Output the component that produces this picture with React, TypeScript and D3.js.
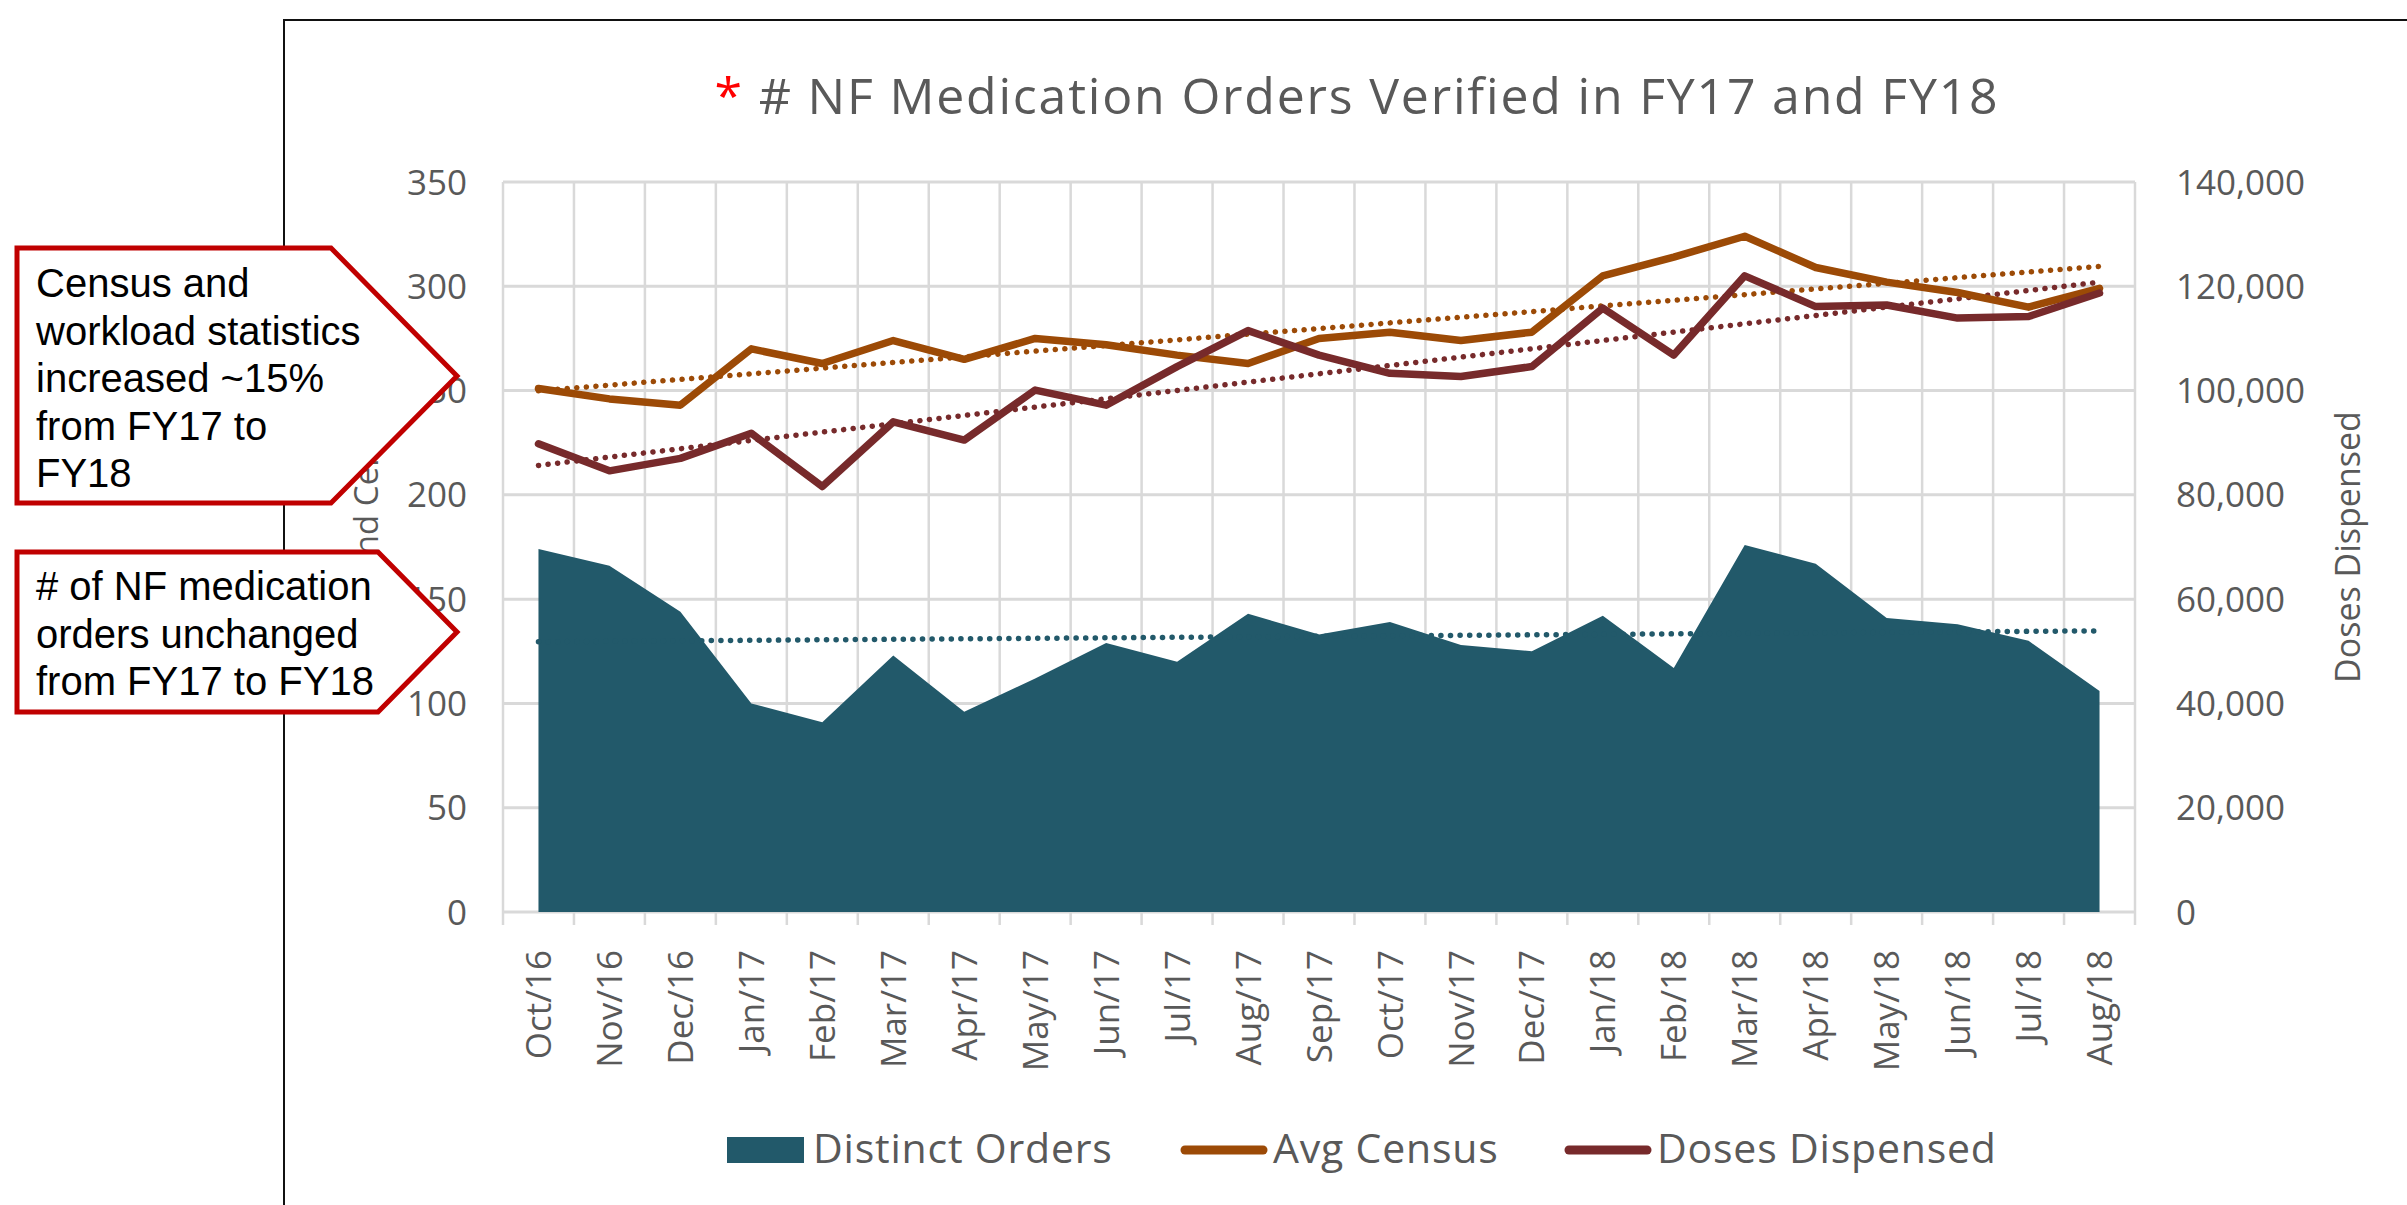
import * as d3 from 'd3'

const months = [
  'Oct/16', 'Nov/16', 'Dec/16', 'Jan/17', 'Feb/17', 'Mar/17', 'Apr/17', 'May/17',
  'Jun/17', 'Jul/17', 'Aug/17', 'Sep/17', 'Oct/17', 'Nov/17', 'Dec/17', 'Jan/18',
  'Feb/18', 'Mar/18', 'Apr/18', 'May/18', 'Jun/18', 'Jul/18', 'Aug/18'
]
const distinctOrders = [174, 166, 144, 100, 91, 123, 96, 112, 129, 120, 143, 133, 139, 128, 125, 142, 117, 176, 167, 141, 138, 130, 106]
const avgCensus = [251, 246, 243, 270, 263, 274, 265, 275, 272, 267, 263, 275, 278, 274, 278, 305, 314, 324, 309, 302, 297, 290, 299]
const dosesDispensed = [
  89800, 84600, 87000, 91800, 81600, 94000, 90500, 100100, 97200, 104600, 111500, 106800,
  103300, 102700, 104600, 115800, 106800, 122000, 116100, 116400, 113900, 114200, 118700
]
const leftTicks = [0, 50, 100, 150, 200, 250, 300, 350]
const rightTicks = [0, 20000, 40000, 60000, 80000, 100000, 120000, 140000]

const TEAL = '#22596A'
const ORANGE = '#9C4A06'
const BROWN = '#772A2B'
const GRAY = '#595959'
const GRID = '#D9D9D9'
const FONT = '"Open Sans", sans-serif'

const plot = { left: 503, right: 2135, top: 182, bottom: 912 }

// least squares line over index
function trend(vals: number[]) {
  const n = vals.length
  const xm = d3.mean(vals, (_, i) => i) as number
  const ym = d3.mean(vals) as number
  let num = 0
  let den = 0
  vals.forEach((v, i) => {
    num += (i - xm) * (v - ym)
    den += (i - xm) * (i - xm)
  })
  const b = num / den
  const a = ym - b * xm
  return [a, a + b * (n - 1)]
}

const App = () => {
  const x = d3.scaleBand<string>().domain(months).range([plot.left, plot.right]).padding(0)
  const cx = (m: string) => (x(m) as number) + x.bandwidth() / 2
  const yL = d3.scaleLinear().domain([0, 350]).range([plot.bottom, plot.top])
  const yR = d3.scaleLinear().domain([0, 140000]).range([plot.bottom, plot.top])

  const area = d3.area<number>()
    .x((_, i) => cx(months[i]))
    .y0(yL(0))
    .y1(d => yL(d))
  const lineL = d3.line<number>().x((_, i) => cx(months[i])).y(d => yL(d))
  const lineR = d3.line<number>().x((_, i) => cx(months[i])).y(d => yR(d))

  const first = cx(months[0])
  const last = cx(months[months.length - 1])
  const tOrders = trend(distinctOrders)
  const tCensus = trend(avgCensus)
  const tDoses = trend(dosesDispensed)

  const bounds = months.map(m => x(m) as number).concat([plot.right])
  const dotted = { strokeDasharray: '0.1 9.5', strokeLinecap: 'round' as const, strokeWidth: 5.5, fill: 'none' }

  return (
    <svg width={2407} height={1205} style={{ position: 'absolute', left: 0, top: 0, background: '#fff' }}>
      <rect x={284} y={20} width={2300} height={1300} fill="#fff" stroke="#111" strokeWidth={2} />

      <text x={1357} y={114} textAnchor="middle" fontFamily={FONT} fontSize={50} letterSpacing={1.8} fill={GRAY}>
        <tspan fill="#FF0000">*</tspan> # NF Medication Orders Verified in FY17 and FY18
      </text>

      {/* grid */}
      {leftTicks.map(t => (
        <line key={t} x1={plot.left} x2={plot.right} y1={yL(t)} y2={yL(t)} stroke={GRID} strokeWidth={3} />
      ))}
      {bounds.map((b, i) => (
        <line key={i} x1={b} x2={b} y1={plot.top} y2={plot.bottom + 13} stroke={GRID} strokeWidth={2.5} />
      ))}

      <path d={area(distinctOrders) as string} fill={TEAL} />

      <line x1={first} x2={last} y1={yL(tOrders[0])} y2={yL(tOrders[1])} stroke={TEAL} {...dotted} />
      <line x1={first} x2={last} y1={yL(tCensus[0])} y2={yL(tCensus[1])} stroke={ORANGE} {...dotted} />
      <line x1={first} x2={last} y1={yR(tDoses[0])} y2={yR(tDoses[1])} stroke={BROWN} {...dotted} />

      <path d={lineL(avgCensus) as string} fill="none" stroke={ORANGE} strokeWidth={7.5} strokeLinejoin="round" strokeLinecap="round" />
      <path d={lineR(dosesDispensed) as string} fill="none" stroke={BROWN} strokeWidth={7.5} strokeLinejoin="round" strokeLinecap="round" />

      {/* left axis */}
      {leftTicks.map(t => (
        <text key={t} x={467} y={yL(t)} dy="0.36em" textAnchor="end" fontFamily={FONT} fontSize={35} fill={GRAY}>{t}</text>
      ))}
      <text transform="translate(378,542) rotate(-90)" textAnchor="middle" fontFamily={FONT} fontSize={33} fill={GRAY}>
        Orders and Census
      </text>

      {/* right axis */}
      {rightTicks.map(t => (
        <text key={t} x={2176} y={yR(t)} dy="0.36em" fontFamily={FONT} fontSize={35} fill={GRAY}>{d3.format(',')(t)}</text>
      ))}
      <text transform="translate(2360,547) rotate(-90)" textAnchor="middle" fontFamily={FONT} fontSize={34} fill={GRAY}>
        Doses Dispensed
      </text>

      {/* x axis labels */}
      {months.map(m => (
        <text key={m} transform={`translate(${cx(m)},950) rotate(-90)`} dy="0.36em" textAnchor="end" fontFamily={FONT} fontSize={35} fill={GRAY}>{m}</text>
      ))}

      {/* legend */}
      <rect x={727} y={1137} width={77} height={26} fill={TEAL} />
      <text x={813} y={1163} fontFamily={FONT} fontSize={41} letterSpacing={0.8} fill={GRAY}>Distinct Orders</text>
      <line x1={1185} x2={1263} y1={1150} y2={1150} stroke={ORANGE} strokeWidth={9} strokeLinecap="round" />
      <text x={1273} y={1163} fontFamily={FONT} fontSize={41} letterSpacing={0.8} fill={GRAY}>Avg Census</text>
      <line x1={1569} x2={1647} y1={1150} y2={1150} stroke={BROWN} strokeWidth={9} strokeLinecap="round" />
      <text x={1657} y={1163} fontFamily={FONT} fontSize={41} letterSpacing={0.8} fill={GRAY}>Doses Dispensed</text>

      {/* callouts */}
      <polygon points="17,248 331,248 457,376 331,503 17,503" fill="#fff" stroke="#C00000" strokeWidth={5} />
      <text fontFamily="'Liberation Sans', Arial, sans-serif" fontSize={40} fill="#000">
        {['Census and', 'workload statistics', 'increased ~15%', 'from FY17 to', 'FY18'].map((s, i) => (
          <tspan key={i} x={36} y={297 + i * 47.5}>{s}</tspan>
        ))}
      </text>
      <polygon points="17,552 378,552 457,632 378,712 17,712" fill="#fff" stroke="#C00000" strokeWidth={5} />
      <text fontFamily="'Liberation Sans', Arial, sans-serif" fontSize={40} fill="#000">
        {['# of NF medication', 'orders unchanged', 'from FY17 to FY18'].map((s, i) => (
          <tspan key={i} x={36} y={600 + i * 47.5}>{s}</tspan>
        ))}
      </text>
    </svg>
  )
}

export default App
